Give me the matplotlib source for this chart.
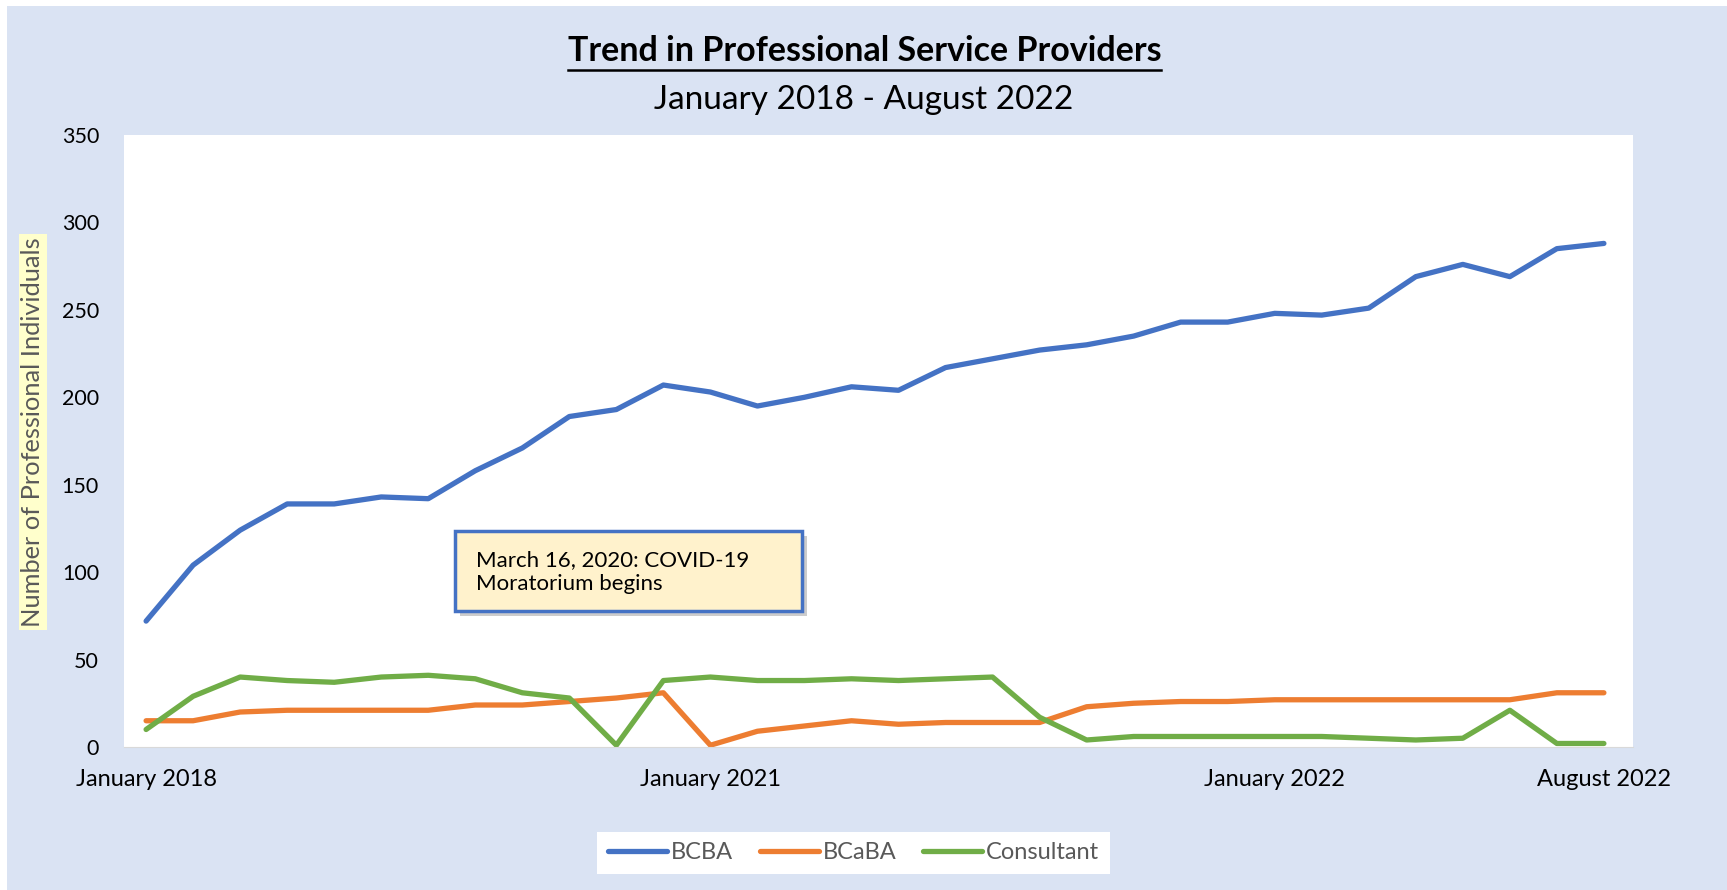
import matplotlib.pyplot as plt
from matplotlib.patches import Rectangle
from matplotlib.lines import Line2D

plt.rcParams['font.family'] = ['Lato', 'DejaVu Sans']

# x categories: quarterly 2018-2020, then monthly Jan 2021 - Aug 2022
quarters = ['January', 'April', 'July', 'October']
months = ['January', 'February', 'March', 'April', 'May', 'June', 'July',
          'August', 'September', 'October', 'November', 'December']
categories = ([f'{m} {y}' for y in (2018, 2019, 2020) for m in quarters]
              + [f'{m} 2021' for m in months]
              + [f'{m} 2022' for m in months[:8]])
shown_labels = ['January 2018', 'January 2021', 'January 2022', 'August 2022']

bcba = [72, 104, 124, 139, 139, 143, 142, 158, 171, 189, 193, 207,
        203, 195, 200, 206, 204, 217, 222, 227, 230, 235, 243, 243,
        248, 247, 251, 269, 276, 269, 285, 288]
bcaba = [15, 15, 20, 21, 21, 21, 21, 24, 24, 26, 28, 31,
         1, 9, 12, 15, 13, 14, 14, 14, 23, 25, 26, 26,
         27, 27, 27, 27, 27, 27, 31, 31]
consultant = [10, 29, 40, 38, 37, 40, 41, 39, 31, 28, 1, 38,
              40, 38, 38, 39, 38, 39, 40, 17, 4, 6, 6, 6,
              6, 6, 5, 4, 5, 21, 2, 2]

series = [('BCBA', bcba, '#4472C4'),
          ('BCaBA', bcaba, '#ED7D31'),
          ('Consultant', consultant, '#70AD47')]

fig = plt.figure(figsize=(17.27, 8.9), dpi=100)
fig.patch.set_facecolor('white')
fig.add_artist(Rectangle((0.004, 0), 0.996, 0.993, transform=fig.transFigure,
                         facecolor='#DAE3F3', edgecolor='none', zorder=-10))

ax = fig.add_axes([0.0718, 0.1607, 0.8738, 0.6876])
ax.set_facecolor('white')
x = list(range(len(categories)))
for name, vals, color in series:
    ax.plot(x, vals, color=color, lw=3.8, label=name, solid_capstyle='round')

ax.set_xlim(-0.47, 31.62)
ax.set_ylim(0, 350)
ax.set_yticks(range(0, 351, 50))
ax.set_xticks([categories.index(l) for l in shown_labels])
ax.set_xticklabels(shown_labels)
ax.tick_params(axis='both', length=0, colors='black')
ax.tick_params(axis='y', pad=18, labelsize=15.5)
ax.tick_params(axis='x', pad=16, labelsize=17)
for side in ['top', 'left', 'right']:
    ax.spines[side].set_visible(False)
ax.spines['bottom'].set_color('#D9D9D9')

# title with underline
title = fig.text(0.5006, 1 - 51 / 890, 'Trend in Professional Service Providers',
                 ha='center', va='center', fontsize=24.5, fontweight='bold')
fig.text(0.5003, 1 - 100 / 890, 'January 2018 - August 2022',
         ha='center', va='center', fontsize=24)

fig.text(33 / 1727, 1 - 432 / 890, 'Number of Professional Individuals',
         rotation=90, ha='center', va='center', fontsize=18.3, color='#595959',
         bbox=dict(facecolor='#FFFFCC', edgecolor='none', pad=2))

# annotation box with shadow
fig.add_artist(Rectangle((0.2635 + 0.003, 0.3135 - 0.006), 0.2009, 0.0899,
                         transform=fig.transFigure, facecolor='#9A9A9A',
                         edgecolor='none', alpha=0.5, zorder=5))
fig.add_artist(Rectangle((0.2635, 0.3135), 0.2009, 0.0899,
                         transform=fig.transFigure, facecolor='#FFF2CC',
                         edgecolor='#4472C4', lw=2.5, zorder=6))
fig.text(0.2756, 1 - 572 / 890, 'March 16, 2020: COVID-19\nMoratorium begins',
         ha='left', va='center', fontsize=16, linespacing=1.3, zorder=7)

leg = ax.legend(loc='center', bbox_to_anchor=(0.4942, 0.0416),
                bbox_transform=fig.transFigure, ncol=3, fontsize=17,
                frameon=True, fancybox=False, handlelength=2.5,
                columnspacing=1.15, handletextpad=0.15, borderpad=0.45,
                borderaxespad=0)
leg.get_frame().set_facecolor('white')
leg.get_frame().set_edgecolor('none')
leg.get_frame().set_alpha(1)
for t in leg.get_texts():
    t.set_color('#595959')

fig.canvas.draw()
bb = title.get_window_extent()
fig.add_artist(Line2D([bb.x0, bb.x1], [bb.y0 - 3, bb.y0 - 3],
                      transform=None, color='black', lw=1.8))

fig.savefig('out.png', dpi=100)
